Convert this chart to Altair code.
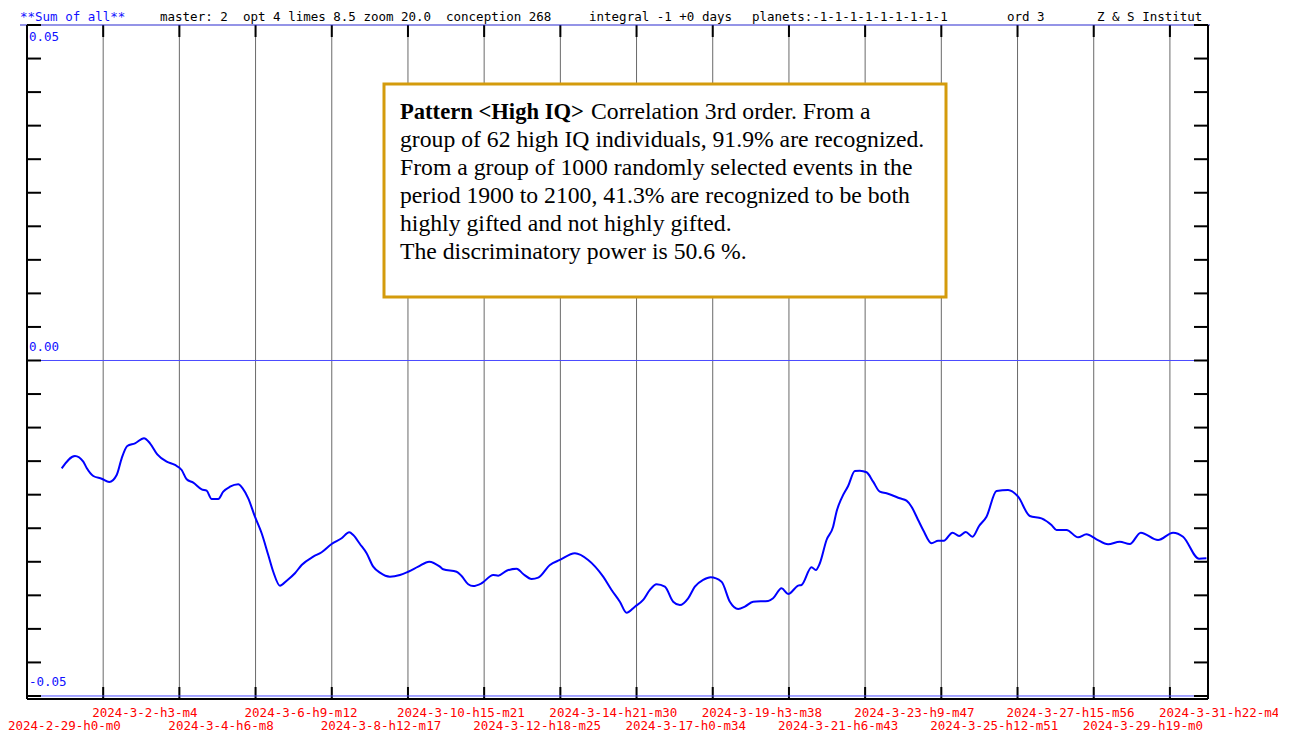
import altair as alt
import pandas as pd

# ---------------- data ----------------
tick_labels = [
    "2024-2-29-h0-m0", "2024-3-2-h3-m4", "2024-3-4-h6-m8", "2024-3-6-h9-m12",
    "2024-3-8-h12-m17", "2024-3-10-h15-m21", "2024-3-12-h18-m25", "2024-3-14-h21-m30",
    "2024-3-17-h0-m34", "2024-3-19-h3-m38", "2024-3-21-h6-m43", "2024-3-23-h9-m47",
    "2024-3-25-h12-m51", "2024-3-27-h15-m56", "2024-3-29-h19-m0", "2024-3-31-h22-m4",
]
y_label_values = [0.05, 0.0, -0.05]
y_label_texts = ["0.05", "0.00", "-0.05"]
y_tick_values = [-0.05, -0.045, -0.04, -0.035, -0.03, -0.025, -0.02, -0.015, -0.01, -0.005, 0.0,
                 0.005, 0.01, 0.015, 0.02, 0.025, 0.03, 0.035, 0.04, 0.045, 0.05]

# hours since 2024-02-29 00:00
hours = [
    23.25, 32.17, 37.73, 40.01, 44.43, 50.06, 55.15, 60.11, 63.46, 67.21, 72.38, 78.41, 82.43,
    87.32, 93.62, 99.18, 103.67, 107.02, 111.44, 117.07, 120.42, 123.77, 128.20, 131.55, 136.04,
    141.60, 144.55, 148.30, 152.79, 157.28, 161.71, 165.06, 169.55, 174.04, 179.60, 184.09,
    191.86, 197.49, 204.19, 210.89, 215.99, 218.67, 223.16, 227.64, 232.07, 236.56, 243.26,
    249.96, 255.52, 262.23, 269.60, 276.77, 278.98, 287.96, 291.31, 295.73, 299.08, 304.71,
    312.49, 315.84, 321.47, 328.16, 332.59, 338.22, 342.65, 350.48, 357.18, 367.24, 376.15,
    386.20, 391.83, 397.39, 401.88, 407.45, 413.01, 417.50, 421.99, 427.55, 433.11, 437.60,
    443.16, 447.65, 453.21, 458.17, 465.54, 471.11, 476.67, 481.16, 486.72, 496.77, 500.12,
    505.75, 510.18, 516.88, 519.16, 525.86, 528.74, 531.42, 535.91, 540.33, 542.61, 545.96,
    550.39, 554.88, 558.23, 562.72, 567.14, 571.63, 576.12, 579.47, 585.03, 589.52, 592.87,
    597.30, 600.65, 606.28, 610.70, 614.52, 620.35, 624.77, 629.26, 633.75, 638.17, 643.13,
    649.84, 657.61, 664.31, 672.15, 679.99, 686.69, 690.04, 696.74, 704.52, 710.14, 716.85,
    724.62, 732.46, 739.16, 746.54, 758.13, 768.18, 774.88, 785.60, 790.56,
]
values = [
    -0.01607, -0.01423, -0.01508, -0.01602, -0.01721, -0.01762, -0.01811, -0.01706, -0.01458,
    -0.01274, -0.01234, -0.01159, -0.01234, -0.01398, -0.01508, -0.01557, -0.01632, -0.01771,
    -0.01821, -0.01920, -0.01940, -0.02064, -0.02064, -0.01955, -0.01881, -0.01845, -0.01905,
    -0.02054, -0.02328, -0.02575, -0.02899, -0.03148, -0.03356, -0.03282, -0.03171, -0.03048,
    -0.02924, -0.02858, -0.02735, -0.02650, -0.02560, -0.02601, -0.02735, -0.02873, -0.03073,
    -0.03162, -0.03222, -0.03197, -0.03148, -0.03073, -0.02998, -0.03073, -0.03112, -0.03148,
    -0.03212, -0.03335, -0.03361, -0.03320, -0.03197, -0.03207, -0.03133, -0.03103, -0.03182,
    -0.03256, -0.03237, -0.03048, -0.02973, -0.02873, -0.02973, -0.03222, -0.03420, -0.03595,
    -0.03759, -0.03669, -0.03569, -0.03420, -0.03335, -0.03371, -0.03595, -0.03644, -0.03544,
    -0.03371, -0.03271, -0.03231, -0.03297, -0.03595, -0.03703, -0.03669, -0.03595, -0.03584,
    -0.03544, -0.03395, -0.03480, -0.03356, -0.03346, -0.03082, -0.03122, -0.03022, -0.02675,
    -0.02477, -0.02253, -0.02054, -0.01870, -0.01647, -0.01642, -0.01666, -0.01806, -0.01955,
    -0.01979, -0.02004, -0.02054, -0.02089, -0.02179, -0.02377, -0.02526, -0.02724, -0.02686,
    -0.02686, -0.02566, -0.02615, -0.02556, -0.02626, -0.02466, -0.02328, -0.01945, -0.01930,
    -0.02030, -0.02317, -0.02352, -0.02452, -0.02526, -0.02526, -0.02635, -0.02590, -0.02665,
    -0.02739, -0.02700, -0.02735, -0.02566, -0.02675, -0.02566, -0.02626, -0.02954, -0.02948,
]

header_title = "**Sum of all**"
header_parts = [
    "master: 2", "opt 4 limes 8.5 zoom 20.0", "conception 268", "integral -1 +0 days",
    "planets:-1-1-1-1-1-1-1-1-1", "ord 3", "Z & S Institut",
]
box_title = "Pattern <High IQ>"
box_first = "Correlation 3rd order. From a"
box_lines = [
    "group of 62 high IQ individuals, 91.9% are recognized.",
    "From a group of 1000 randomly selected events in the",
    "period 1900 to 2100, 41.3% are recognized to be both",
    "highly gifted and not highly gifted.",
    "The discriminatory power is 50.6 %.",
]


def label_hours(s):
    parts = s.split("-")
    month, day = int(parts[1]), int(parts[2])
    h, m = int(parts[3][1:]), int(parts[4][1:])
    days = day if month == 3 else day - 29
    return days * 24 + h + m / 60.0


# ---------------- layout ----------------
W, H = 1181, 674
X_MAX = 791.6
Y_MIN, Y_MAX = -0.05045, 0.05
MONO = "DejaVu Sans Mono"
SERIF = "Liberation Serif"

xs = alt.Scale(domain=[0, X_MAX], nice=False, zero=False)
ys = alt.Scale(domain=[Y_MIN, Y_MAX], nice=False, zero=False)

ticks_df = pd.DataFrame({
    "h": [label_hours(s) for s in tick_labels],
    "label": tick_labels,
    "idx": list(range(len(tick_labels))),
})
curve_df = pd.DataFrame({"h": hours, "v": values})
ytick_df = pd.DataFrame({"v": y_tick_values})
one = pd.DataFrame({"a": [0]})

layers = []

# vertical grid lines
grid = alt.Chart(ticks_df).transform_filter("datum.idx > 0").mark_rule(
    color="#6a6a6a", strokeWidth=1
).encode(x=alt.X("h:Q", scale=xs, axis=None), y=alt.value(0), y2=alt.value(H))
layers.append(grid)
# black ticks on top/bottom of grid lines
layers.append(alt.Chart(ticks_df).mark_rule(color="black", strokeWidth=2).encode(
    x=alt.X("h:Q", scale=xs, axis=None), y=alt.value(0), y2=alt.value(12)))
layers.append(alt.Chart(ticks_df).mark_rule(color="black", strokeWidth=2).encode(
    x=alt.X("h:Q", scale=xs, axis=None), y=alt.value(H - 12), y2=alt.value(H)))

# blue horizontal lines at 0.05, 0, -0.05
layers.append(alt.Chart(pd.DataFrame({"v": [0.05]})).mark_rule(color="#2a2ad0", strokeWidth=1.2).encode(
    y=alt.Y("v:Q", scale=ys, axis=None), x=alt.value(-7), x2=alt.value(W + 2)))
layers.append(alt.Chart(pd.DataFrame({"v": [0.0, -0.05]})).mark_rule(color="#4a4aff", strokeWidth=1).encode(
    y=alt.Y("v:Q", scale=ys, axis=None), x=alt.value(0), x2=alt.value(W)))

# y-axis ticks left and right
layers.append(alt.Chart(ytick_df).mark_rule(color="black", strokeWidth=2).encode(
    y=alt.Y("v:Q", scale=ys, axis=None), x=alt.value(0), x2=alt.value(14)))
layers.append(alt.Chart(ytick_df).mark_rule(color="black", strokeWidth=2).encode(
    y=alt.Y("v:Q", scale=ys, axis=None), x=alt.value(W - 14), x2=alt.value(W)))

# frame (left, right, bottom)
layers.append(alt.Chart(one).mark_rule(color="black", strokeWidth=2).encode(
    x=alt.value(0), y=alt.value(0), y2=alt.value(H)))
layers.append(alt.Chart(one).mark_rule(color="black", strokeWidth=2).encode(
    x=alt.value(W), y=alt.value(0), y2=alt.value(H)))
layers.append(alt.Chart(one).mark_rule(color="black", strokeWidth=2).encode(
    y=alt.value(H), x=alt.value(0), x2=alt.value(W)))

# curve
layers.append(alt.Chart(curve_df).mark_line(color="#0000ff", strokeWidth=2, interpolate="monotone").encode(
    x=alt.X("h:Q", scale=xs, axis=None), y=alt.Y("v:Q", scale=ys, axis=None)))

# y labels
y_dys = [12, -13.5, -14]
for val, txt, dy in zip(y_label_values, y_label_texts, y_dys):
    layers.append(alt.Chart(pd.DataFrame({"v": [val], "t": [txt]})).mark_text(
        font=MONO, fontSize=12.5, color="#1010ff", align="left", baseline="middle", dy=dy
    ).encode(y=alt.Y("v:Q", scale=ys, axis=None), x=alt.value(2), text="t:N"))

# x labels (two rows)
lab_base = alt.Chart(ticks_df)
layers.append(lab_base.transform_filter("datum.idx % 2 == 1").mark_text(
    font=MONO, fontSize=12.5, color="#ff0000", align="left", baseline="middle", dx=-11
).encode(x=alt.X("h:Q", scale=xs, axis=None), y=alt.value(H + 14), text="label:N"))
layers.append(lab_base.transform_filter("datum.idx % 2 == 0 && datum.idx > 0").mark_text(
    font=MONO, fontSize=12.5, color="#ff0000", align="left", baseline="middle", dx=-11
).encode(x=alt.X("h:Q", scale=xs, axis=None), y=alt.value(H + 27), text="label:N"))
layers.append(lab_base.transform_filter("datum.idx == 0").mark_text(
    font=MONO, fontSize=12.5, color="#ff0000", align="left", baseline="middle", dx=-19
).encode(x=alt.X("h:Q", scale=xs, axis=None), y=alt.value(H + 27), text="label:N"))

# header
header_x = [133, 216, 419, 562, 725, 980, 1070]
layers.append(alt.Chart(one).mark_text(
    font=MONO, fontSize=12.5, color="#1010ff", align="left", baseline="middle"
).encode(x=alt.value(-7), y=alt.value(-8), text=alt.value(header_title)))
for txt, hx in zip(header_parts, header_x):
    layers.append(alt.Chart(one).mark_text(
        font=MONO, fontSize=12.5, color="black", align="left", baseline="middle"
    ).encode(x=alt.value(hx), y=alt.value(-8), text=alt.value(txt)))

# annotation box
layers.append(alt.Chart(one).mark_rect(fill="white", stroke="#d49b0c", strokeWidth=3).encode(
    x=alt.value(357), x2=alt.value(919), y=alt.value(59), y2=alt.value(272)))
layers.append(alt.Chart(one).mark_text(
    font=SERIF, fontSize=22.6, fontWeight="bold", color="black", align="left", baseline="alphabetic"
).encode(x=alt.value(373), y=alt.value(94), text=alt.value(box_title)))
layers.append(alt.Chart(one).mark_text(
    font=SERIF, fontSize=23.7, color="black", align="left", baseline="alphabetic"
).encode(x=alt.value(564), y=alt.value(94), text=alt.value(box_first)))
layers.append(alt.Chart(one).mark_text(
    font=SERIF, fontSize=23.7, color="black", align="left", baseline="alphabetic", lineHeight=28
).encode(x=alt.value(373), y=alt.value(122), text=alt.value(box_lines)))

chart = alt.layer(*layers).properties(
    width=W, height=H,
    autosize=alt.AutoSizeParams(type="none"),
    padding={"left": 19, "top": 17, "right": 70, "bottom": 33},
    background="white",
).configure_view(stroke=None)

chart.save("out.html", embed_options={"renderer": "svg", "actions": False})
